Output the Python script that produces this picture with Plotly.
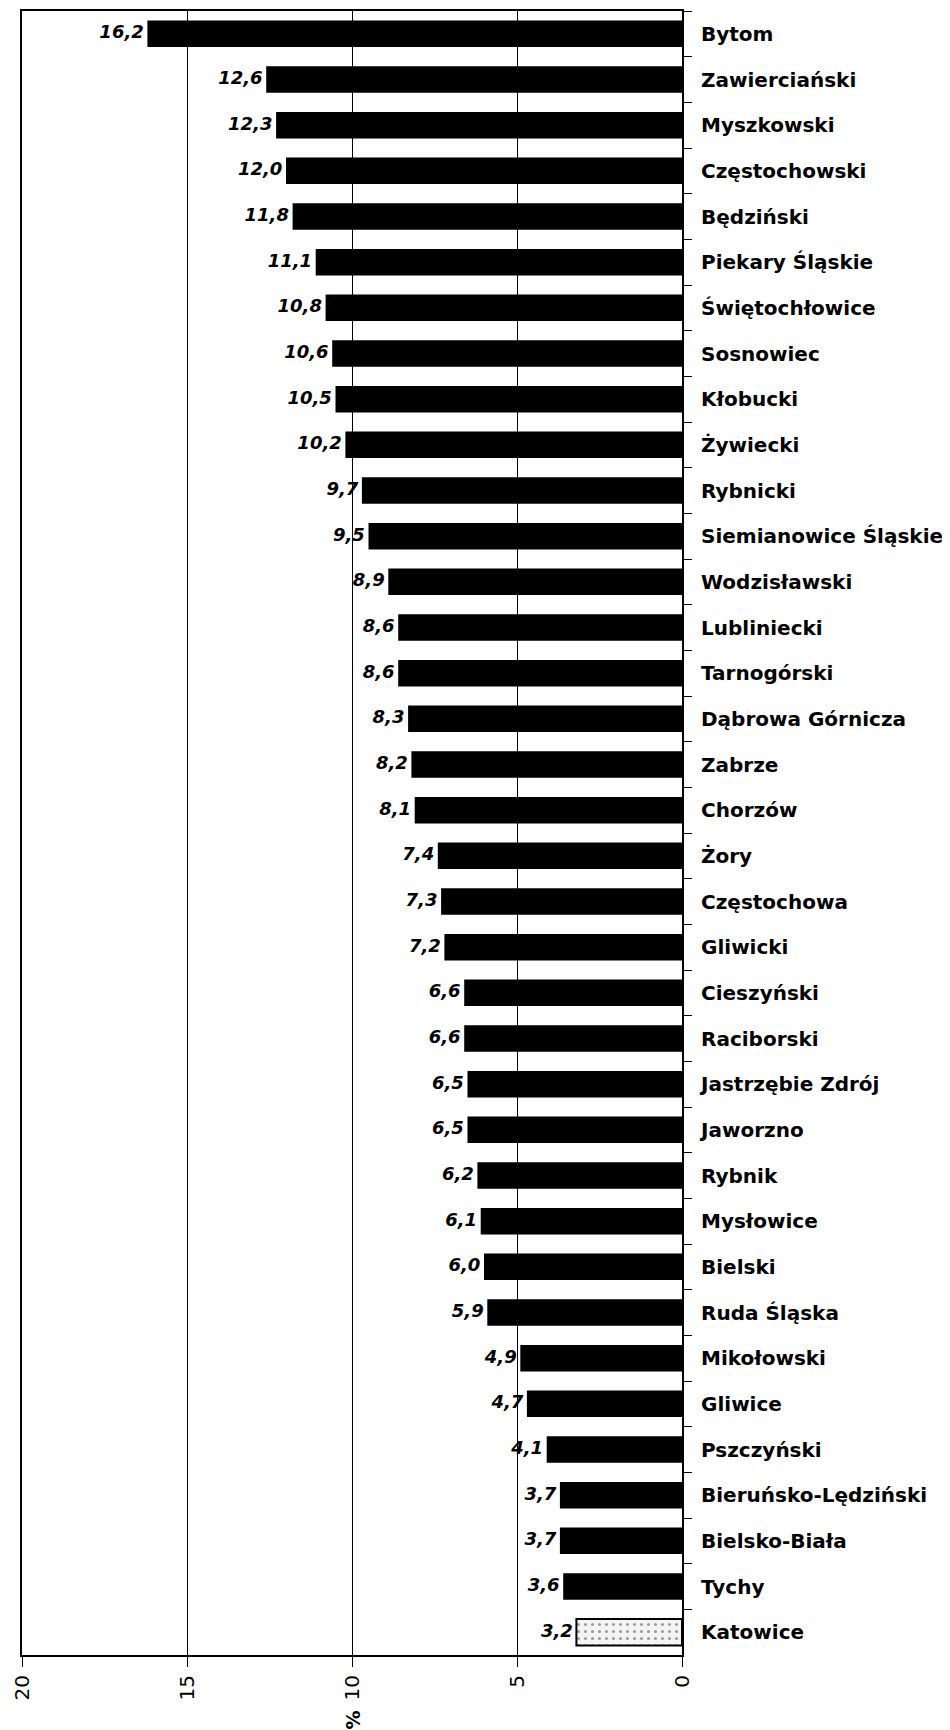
import plotly.graph_objects as go

categories = ["Bytom", "Zawierciański", "Myszkowski", "Częstochowski", "Będziński",
              "Piekary Śląskie", "Świętochłowice", "Sosnowiec", "Kłobucki", "Żywiecki",
              "Rybnicki", "Siemianowice Śląskie", "Wodzisławski", "Lubliniecki", "Tarnogórski",
              "Dąbrowa Górnicza", "Zabrze", "Chorzów", "Żory", "Częstochowa", "Gliwicki",
              "Cieszyński", "Raciborski", "Jastrzębie Zdrój", "Jaworzno", "Rybnik",
              "Mysłowice", "Bielski", "Ruda Śląska", "Mikołowski", "Gliwice", "Pszczyński",
              "Bieruńsko-Lędziński", "Bielsko-Biała", "Tychy", "Katowice"]
values = [16.2, 12.6, 12.3, 12.0, 11.8, 11.1, 10.8, 10.6, 10.5, 10.2,
          9.7, 9.5, 8.9, 8.6, 8.6, 8.3, 8.2, 8.1, 7.4, 7.3, 7.2,
          6.6, 6.6, 6.5, 6.5, 6.2, 6.1, 6.0, 5.9, 4.9, 4.7, 4.1,
          3.7, 3.7, 3.6, 3.2]
highlight = "Katowice"
x_ticks = [0, 5, 10, 15, 20]
axis_title = "%"

labels = [f"{v:.1f}".replace(".", ",") for v in values]
colors = ["#f4f4f4" if c == highlight else "black" for c in categories]
line_w = [2 if c == highlight else 0 for c in categories]
n = len(categories)

fig = go.Figure()
fig.add_trace(go.Bar(
    y=categories, x=values, orientation="h", width=0.58,
    marker=dict(color=colors, line=dict(color="black", width=line_w),
                pattern=dict(shape=["." if c == highlight else "" for c in categories],
                             fgcolor="#b0b0b0", size=7, solidity=0.15)),
    showlegend=False, hoverinfo="skip"))
fig.add_trace(go.Scatter(
    y=categories, x=values, mode="text", text=labels, textposition="middle left",
    texttemplate="<b><i>%{text}</i></b>\u2009",
    textfont=dict(family="DejaVu Sans", size=18, color="black"),
    cliponaxis=False, showlegend=False, hoverinfo="skip"))

fig.update_layout(
    width=942, height=1722,
    margin=dict(l=11, r=268, t=1, b=75),
    plot_bgcolor="white", paper_bgcolor="white",
    font=dict(family="DejaVu Sans", color="black"),
)
fig.update_xaxes(
    range=[20, 0], tickvals=x_ticks, ticktext=[str(t) for t in x_ticks],
    tickangle=-90, tickfont=dict(size=20, family="DejaVu Sans"),
    showgrid=True, gridcolor="black", gridwidth=1, zeroline=False,
    showline=True, linecolor="black", linewidth=2, mirror=True,
    ticks="outside", ticklen=10, tickcolor="black", ticklabelstandoff=0,
    ticklabeloverflow="allow",
)
fig.update_yaxes(
    side="right", type="category", range=[n - 0.5, -0.5],
    tickfont=dict(size=20, family="DejaVu Sans", color="black"),
    tickprefix="<b>", ticksuffix="</b>",
    showline=True, linecolor="black", linewidth=2, mirror=True,
    ticks="outside", tickson="boundaries", ticklen=8, tickcolor="black",
    showgrid=False, ticklabelstandoff=13,
)
fig.add_annotation(
    text="<b>" + axis_title + "</b>", xref="paper", yref="paper",
    x=0.5, y=0, yshift=-54, textangle=-90, showarrow=False,
    font=dict(size=19, family="DejaVu Sans"), yanchor="top")

fig.write_html("out.html")
